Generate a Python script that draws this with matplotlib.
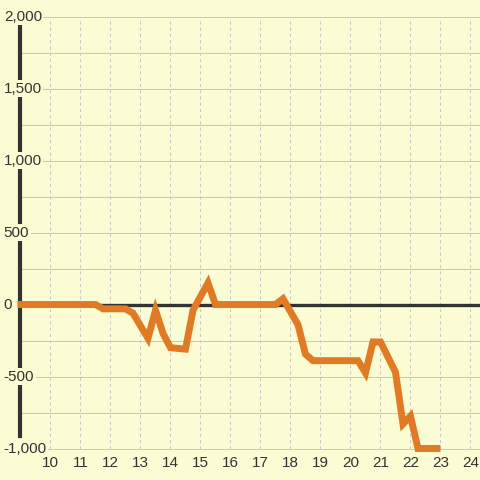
import matplotlib
matplotlib.use('Agg')
import matplotlib.pyplot as plt
import matplotlib.transforms as mtransforms

plt.rcParams['font.family'] = ['Liberation Sans', 'DejaVu Sans']

# 数据：小时 / 数值
hours = [8.9, 11.5, 11.75, 12.5, 12.75, 13.25, 13.5, 13.75, 14, 14.5, 14.75,
         15.25, 15.5, 17.5, 17.75, 18.25, 18.5, 18.75, 20.25, 20.5, 20.75,
         21, 21.5, 21.75, 22, 22.25, 23]
values = [0, 0, -30, -30, -60, -235, -40, -200, -300, -310, -40,
          150, 0, 0, 40, -140, -345, -390, -390, -475, -260,
          -260, -470, -830, -775, -1000, -1000]

x_ticks = list(range(10, 25))
y_grid = list(range(-1000, 2001, 250))
y_label_vals = [2000, 1500, 1000, 500, 0, -500, -1000]
y_labels = ['2,000', '1,500', '1,000', '500', '0', '-500', '-1,000']

BG = '#FCFCD4'
ORANGE = '#E07A24'
DARK = '#333333'
GRID = '#C8C8C8'

fig = plt.figure(figsize=(4.8, 4.8), dpi=100, facecolor=BG)
ax = fig.add_axes([0, 0, 1, 1])
ax.set_facecolor(BG)
ax.set_xlim(8.317, 24.317)
ax.set_ylim(-1218.7, 2114.6)

# 网格
ax.hlines(y_grid, 9, 24.317, colors=GRID, lw=0.75, zorder=1)
ax.vlines(x_ticks, -1000, 2000, colors=GRID, lw=0.75, linestyles=(0, (3, 3)), zorder=1)

# 零线
ax.axhline(0, xmin=(9 - 8.317) / 16, color=DARK, lw=2.4, zorder=2)

# 左轴线
for s in ['top', 'right', 'bottom']:
    ax.spines[s].set_visible(False)
ax.spines['left'].set_position(('data', 9))
ax.spines['left'].set_bounds(-910, 1945)
ax.spines['left'].set_linewidth(3)
ax.spines['left'].set_color(DARK)
ax.set_xticks([])
ax.set_yticks([])

# 折线
ax.plot(hours, values, color=ORANGE, lw=5, solid_joinstyle='miter',
        solid_capstyle='butt', zorder=3)

# y 轴标签（带背景遮住轴线）
trans = mtransforms.blended_transform_factory(ax.transAxes, ax.transData)
for v, lab in zip(y_label_vals, y_labels):
    ax.text(0.008, v, lab, transform=trans, ha='left', va='center',
            fontsize=11, color=DARK, zorder=4,
            bbox=dict(facecolor=BG, edgecolor='none', pad=1))

# x 轴标签
for h in x_ticks:
    ax.text(h, -1125, str(h), ha='center', va='baseline', fontsize=11,
            color=DARK, zorder=4)

fig.savefig('out.png', dpi=100, facecolor=BG)
